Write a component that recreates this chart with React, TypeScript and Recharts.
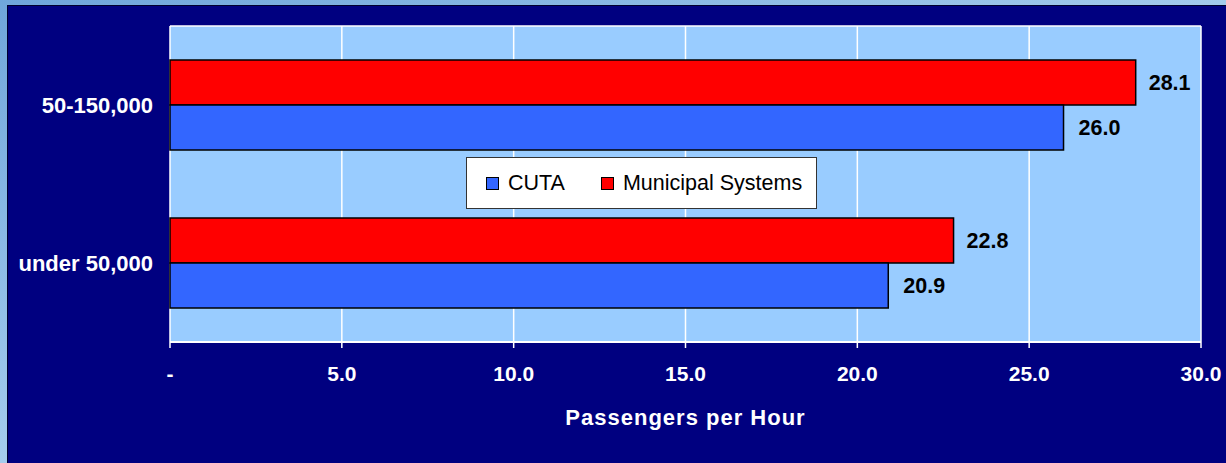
import React from "react";
import {
  BarChart, Bar, XAxis, YAxis, CartesianGrid, Legend, LabelList,
} from "recharts";

// values
const categories = ["50-150,000", "under 50,000"];
const cutaValues = [26.0, 20.9];
const municipalValues = [28.1, 22.8];
const xTicks = [0, 5, 10, 15, 20, 25, 30];
const bandEdges = [0, 1, 2];

const data = categories.map((name, i) => ({
  name,
  cuta: cutaValues[i],
  municipal: municipalValues[i],
}));

const FONT = "'Liberation Sans', Arial, sans-serif";

const legendItems = [
  { label: "CUTA", color: "#3366ff" },
  { label: "Municipal Systems", color: "#ff0000" },
];

function LegendBox() {
  return (
    <div
      style={{
        width: 349,
        height: 50,
        background: "#ffffff",
        border: "1px solid #333333",
        display: "flex",
        alignItems: "center",
        fontFamily: FONT,
        fontSize: 21.5,
        color: "#000",
        boxSizing: "content-box",
      }}
    >
      {legendItems.map((it, i) => (
        <div
          key={it.label}
          style={{ display: "flex", alignItems: "center", marginLeft: i === 0 ? 19 : 36 }}
        >
          <span
            style={{
              width: 11,
              height: 11,
              background: it.color,
              border: "1.5px solid #000",
              marginRight: 9,
              display: "inline-block",
            }}
          />
          <span>{it.label}</span>
        </div>
      ))}
    </div>
  );
}

export default function App() {
  return (
    <div
      style={{
        position: "fixed",
        left: 0,
        top: 0,
        width: 1226,
        height: 463,
        overflow: "hidden",
        background: "linear-gradient(160deg, #6fa6db 0%, #a9cfee 55%, #d6e8f5 100%)",
      }}
    >
      <div
        style={{
          position: "absolute",
          left: 7,
          top: 5,
          right: -2,
          bottom: -2,
          background: "#000080",
          border: "1px solid #000030",
        }}
      />
      <div style={{ position: "absolute", left: 0, top: 0 }}>
        <BarChart
          width={1226}
          height={463}
          data={data}
          layout="vertical"
          margin={{ top: 26, right: 25, left: 0, bottom: 0 }}
          barGap={0}
          barCategoryGap={34}
        >
          <CartesianGrid
            fill="#99ccff"
            stroke="#ffffff"
            strokeWidth={1.5}
            horizontalCoordinatesGenerator={({ offset }: any) => [
              offset.top,
              offset.top + offset.height,
            ]}
          />
          <YAxis
            yAxisId="cat"
            type="category"
            dataKey="name"
            width={170}
            axisLine={false}
            tickLine={false}
            tickSize={0}
            tickMargin={17}
            tick={{ fill: "#ffffff", fontSize: 22, fontWeight: "bold", fontFamily: FONT }}
          />
          <YAxis
            yAxisId="edges"
            type="number"
            domain={[0, 2]}
            ticks={bandEdges}
            width={0}
            tick={() => <g />}
            tickSize={7}
            axisLine={{ stroke: "#ffffff", strokeWidth: 2 }}
            tickLine={{ stroke: "#ffffff", strokeWidth: 1.5 }}
          />
          <XAxis
            type="number"
            domain={[0, 30]}
            ticks={xTicks}
            height={121}
            tickSize={6}
            tickMargin={18}
            axisLine={{ stroke: "#ffffff", strokeWidth: 2 }}
            tickLine={{ stroke: "#ffffff", strokeWidth: 1.5 }}
            tick={{ fill: "#ffffff", fontSize: 21, fontWeight: "bold", fontFamily: FONT }}
            tickFormatter={(v: number) => (v === 0 ? "-" : v.toFixed(1))}
            label={{
              value: "Passengers per Hour",
              position: "insideBottom",
              offset: 38,
              fill: "#ffffff",
              fontSize: 22,
              fontWeight: "bold",
              fontFamily: FONT,
              letterSpacing: 1,
            }}
          />
          <Legend
            layout="horizontal"
            verticalAlign="middle"
            align="center"
            content={() => <LegendBox />}
            wrapperStyle={{ position: "absolute", left: 466, top: 157, width: "auto" }}
          />
          <Bar
            yAxisId="cat"
            dataKey="municipal"
            name="Municipal Systems"
            fill="#ff0000"
            stroke="#000000"
            strokeWidth={1.5}
            isAnimationActive={false}
          >
            <LabelList
              dataKey="municipal"
              position="right"
              offset={13}
              fill="#000000"
              fontSize={21.5}
              fontWeight="bold"
              fontFamily={FONT}
              formatter={(v: any) => Number(v).toFixed(1)}
            />
          </Bar>
          <Bar
            yAxisId="cat"
            dataKey="cuta"
            name="CUTA"
            fill="#3366ff"
            stroke="#000000"
            strokeWidth={1.5}
            isAnimationActive={false}
          >
            <LabelList
              dataKey="cuta"
              position="right"
              offset={15}
              fill="#000000"
              fontSize={21.5}
              fontWeight="bold"
              fontFamily={FONT}
              formatter={(v: any) => Number(v).toFixed(1)}
            />
          </Bar>
        </BarChart>
      </div>
    </div>
  );
}
